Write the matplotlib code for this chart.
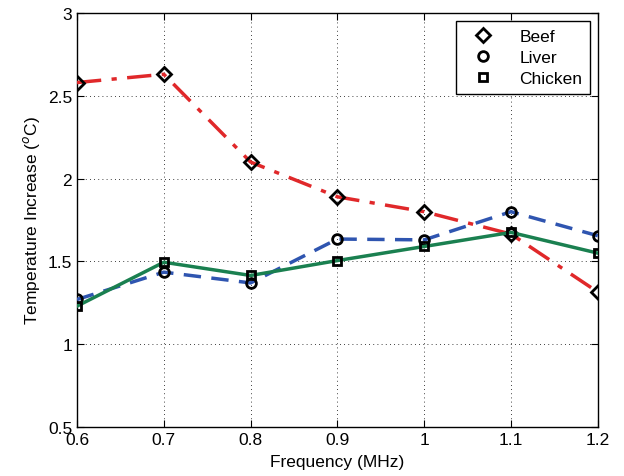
import matplotlib
matplotlib.use("Agg")
import matplotlib.pyplot as plt
from matplotlib.lines import Line2D

plt.rcParams['font.family'] = ['Liberation Sans', 'DejaVu Sans']

freq = [0.6, 0.7, 0.8, 0.9, 1.0, 1.1, 1.2]
beef = [2.58, 2.63, 2.10, 1.89, 1.80, 1.665, 1.315]
liver = [1.27, 1.435, 1.37, 1.635, 1.63, 1.80, 1.655]
chicken = [1.23, 1.495, 1.415, 1.505, 1.59, 1.675, 1.55]
xticks = [0.6, 0.7, 0.8, 0.9, 1.0, 1.1, 1.2]
xticklabels = ['0.6', '0.7', '0.8', '0.9', '1', '1.1', '1.2']
yticks = [0.5, 1, 1.5, 2, 2.5, 3]
yticklabels = ['0.5', '1', '1.5', '2', '2.5', '3']

fig = plt.figure(figsize=(6.24, 4.77), dpi=100)
ax = fig.add_axes([0.1234, 0.1027, 0.8346, 0.868])

mk = dict(markerfacecolor='none', markeredgecolor='black', markeredgewidth=2.0, markersize=7)
ax.plot(freq, beef, color='#e0282a', lw=2.5, dashes=[7, 3, 1.5, 3], marker='D', zorder=3, **{**mk, 'markersize': 7})
ax.plot(freq, liver, color='#2f55b0', lw=2.5, dashes=[5, 3], marker='o', zorder=3, **mk)
ax.plot(freq, chicken, color='#1a8050', lw=2.5, ls='-', marker='s', zorder=3, **{**mk, 'markersize': 6})

ax.set_xlim(0.6, 1.2)
ax.set_ylim(0.5, 3)
ax.set_xticks(xticks)
ax.set_xticklabels(xticklabels)
ax.set_yticks(yticks)
ax.set_yticklabels(yticklabels)
ax.grid(True, color='black', ls=(0, (1, 4)), lw=0.6)
ax.tick_params(direction='in', top=True, right=True, labelsize=12.5, length=5, width=0.8)
for s in ax.spines.values():
    s.set_linewidth(1.0)
ax.set_xlabel('Frequency (MHz)', fontsize=12.5, labelpad=5)
ax.set_ylabel('Temperature Increase ($^o$C)', fontsize=12.5, labelpad=4)

handles = [
    Line2D([], [], ls='none', marker='D', markersize=7, markerfacecolor='none', markeredgecolor='black', markeredgewidth=2),
    Line2D([], [], ls='none', marker='o', markersize=7, markerfacecolor='none', markeredgecolor='black', markeredgewidth=2),
    Line2D([], [], ls='none', marker='s', markersize=6, markerfacecolor='none', markeredgecolor='black', markeredgewidth=2),
]
leg = ax.legend(handles, ['Beef', 'Liver', 'Chicken'], loc='upper right', fontsize=12.5,
                fancybox=False, edgecolor='black', framealpha=1, borderaxespad=0.45,
                handlelength=2.2, handletextpad=1.0, labelspacing=0.35, borderpad=0.45)
leg.get_frame().set_linewidth(1.0)

fig.savefig('out.png', dpi=100)
